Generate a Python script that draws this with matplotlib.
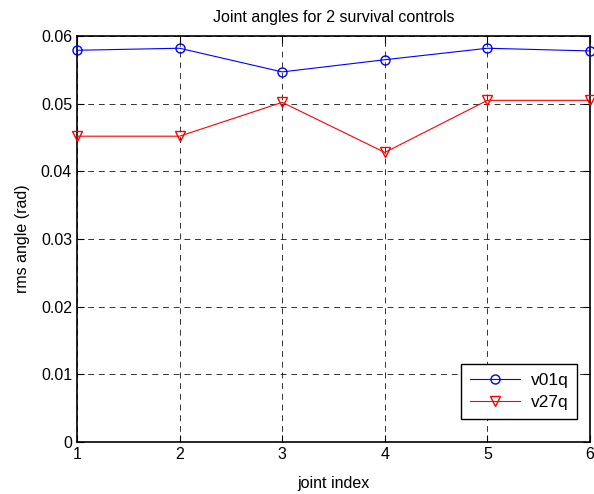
import matplotlib
matplotlib.use("Agg")
import matplotlib.pyplot as plt

joints = [1, 2, 3, 4, 5, 6]
v01q = [0.0579, 0.0582, 0.0547, 0.0565, 0.0582, 0.0578]
v27q = [0.0452, 0.0452, 0.0502, 0.0428, 0.0505, 0.0505]
yticks = [0, 0.01, 0.02, 0.03, 0.04, 0.05, 0.06]
yticklabels = ["0", "0.01", "0.02", "0.03", "0.04", "0.05", "0.06"]

plt.rcParams['font.family'] = ['Liberation Sans', 'DejaVu Sans']
fig = plt.figure(figsize=(5.94, 4.94), dpi=100)
ax = fig.add_axes([0.1296, 0.1053, 0.8637, 0.8217])
ax.plot(joints, v01q, color='blue', marker='o', markerfacecolor='none',
        markersize=6.5, linewidth=0.8, label='v01q', clip_on=False, zorder=3)
ax.plot(joints, v27q, color='red', marker='v', markerfacecolor='none',
        markersize=7.5, linewidth=0.8, label='v27q', clip_on=False, zorder=3)
ax.set_xlim(1, 6)
ax.set_ylim(0, 0.06)
ax.set_xticks(joints)
ax.set_yticks(yticks)
ax.set_yticklabels(yticklabels)
ax.grid(True, color='black', linestyle=(0, (6, 5)), linewidth=0.7, alpha=0.8)
ax.tick_params(direction='in', labelsize=11.5, length=5, top=True, right=True)
for s in ax.spines.values():
    s.set_linewidth(1.2)
ax.set_xlabel('joint index', fontsize=11.5, labelpad=10)
ax.set_ylabel('rms angle (rad)', fontsize=11.5, labelpad=8)
ax.set_title('Joint angles for 2 survival controls', fontsize=11.5, pad=10)
leg = ax.legend(loc='lower right', bbox_to_anchor=(0.975, 0.057), borderaxespad=0,
                fontsize=12.5, fancybox=False, framealpha=1,
                edgecolor='black', handlelength=2.9,
                borderpad=0.5, labelspacing=0.4, handletextpad=0.6)
leg.get_frame().set_linewidth(1.0)
fig.savefig('out.png', dpi=100)
